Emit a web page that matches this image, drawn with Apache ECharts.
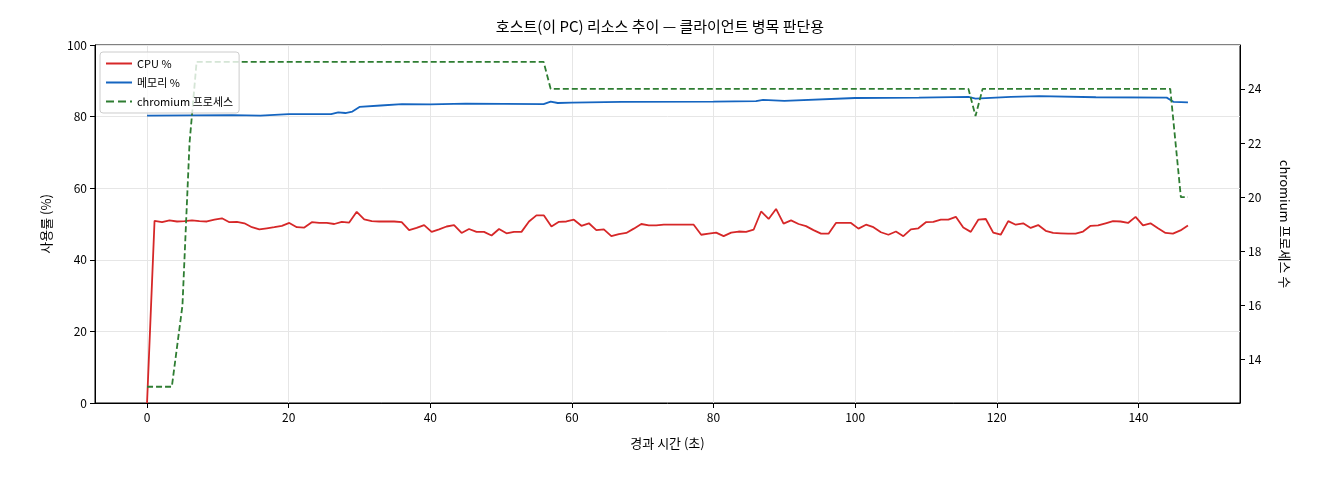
<!DOCTYPE html>
<html><head><meta charset="utf-8">
<script src="https://cdn.jsdelivr.net/npm/echarts@6/dist/echarts.min.js"></script>
<style>html,body{margin:0;padding:0;background:#fff}#c{width:1320px;height:480px}</style>
</head><body><div id="c"></div>
<script>
const cpuVals = [0,50.9,50.5,51,50.7,50.8,51,50.8,50.7,51.2,51.6,50.5,50.6,50.2,49.1,48.5,48.8,49.1,49.5,50.3,49.1,49,50.5,50.3,50.3,50,50.6,50.4,53.4,51.3,50.8,50.7,50.7,50.7,50.5,48.3,48.9,49.7,47.8,48.5,49.3,49.7,47.5,48.6,47.8,47.8,46.8,48.6,47.4,47.8,47.8,50.7,52.4,52.4,49.3,50.6,50.7,51.2,49.5,50.2,48.3,48.5,46.6,47.2,47.5,48.7,50,49.6,49.6,49.8,49.8,49.8,49.8,
49.8,47.0,47.3,47.6,46.6,47.6,47.9,47.8,48.4,53.5,51.4,54.2,50.1,51,50,49.4,48.3,47.3,47.3,50.3,50.3,50.3,48.7,49.8,49.1,47.7,47,47.9,46.6,48.5,48.8,50.5,50.6,51.2,51.2,52,49,47.8,51.2,51.4,47.6,47,50.8,49.8,50.2,48.9,49.7,48.1,47.5,47.4,47.3,47.3,47.9,49.5,49.6,50.2,50.8,50.7,50.3,52,49.6,50.2,48.8,47.5,47.3,48.2,49.6];
const endTime = 147;
const cpuTimes = cpuVals.map((_, i) => +(i * endTime / (cpuVals.length - 1)).toFixed(2));
const memTimes = [0,12,16,20,26,27,28,29,30,33,36,40,45,56,57,58,60,67,80,86,87,90,100,109,116,117,122,126,134,144,145,147];
const memVals  = [80.3,80.4,80.3,80.7,80.7,81.2,81.0,81.4,82.7,83.1,83.5,83.4,83.6,83.5,84.2,83.8,83.9,84.1,84.2,84.3,84.7,84.4,85.2,85.3,85.5,85.0,85.5,85.7,85.4,85.3,84.1,84.0];
const procTimes = [0,3.5,5,6,7,56,57,116,117,118,144.5,146,147];
const procVals  = [13,13,16,22,25,25,24,24,23,24,24,20,20];
const xTicks = [0,20,40,60,80,100,120,140];
const yTicks = [0,20,40,60,80,100];
const y2Ticks = [14,16,18,20,22,24];

const zip = (a,b) => a.map((v,i)=>[v,b[i]]);
const F = '"Noto Sans CJK KR","DejaVu Sans",sans-serif';
const chart = echarts.init(document.getElementById('c'));
const ax = {color:'#000'};
chart.setOption({
  animation:false,
  textStyle:{fontFamily:F},
  title:{text:'호스트(이 PC) 리소스 추이 — 클라이언트 병목 판단용',left:'center',top:14,textStyle:{fontFamily:F,fontSize:15,fontWeight:'normal',color:'#000'}},
  grid:{left:95,right:80,top:45,bottom:77,show:true,borderColor:'#000',borderWidth:1,backgroundColor:'transparent'},
  legend:{orient:'vertical',left:100,top:52,padding:[6,6],itemGap:8,itemWidth:26,itemHeight:2,
    backgroundColor:'rgba(255,255,255,0.8)',borderColor:'#ccc',borderWidth:1,borderRadius:3,
    textStyle:{fontFamily:F,fontSize:11,color:'#000'},
    data:[{name:'CPU %',icon:'rect'},{name:'메모리 %',icon:'rect'},
      {name:'chromium 프로세스',icon:'path://M0,0h8v2h-8z M12,0h8v2h-8z M24,0h2v2h-2z'}]},
  xAxis:{type:'value',min:-7.35,max:154.35,name:'경과 시간 (초)',nameLocation:'middle',nameGap:34,
    nameTextStyle:{fontSize:13,color:'#000'},
    axisLine:{show:true,onZero:false,lineStyle:ax},
    axisTick:{show:true,inside:false,length:5,lineStyle:ax,customValues:xTicks},
    axisLabel:{fontSize:12,color:'#000',customValues:xTicks},
    splitLine:{show:true,lineStyle:{color:'#e6e6e6'}}},
  yAxis:[{type:'value',min:0,max:100,name:'사용률 (%)',nameLocation:'middle',nameGap:42,
    nameTextStyle:{fontSize:13,color:'#000'},
    axisLine:{show:true,onZero:false,lineStyle:ax},
    axisTick:{show:true,inside:false,length:5,lineStyle:ax,customValues:yTicks},
    axisLabel:{fontSize:12,color:'#000',customValues:yTicks},
    splitLine:{show:true,lineStyle:{color:'#e6e6e6'}}},
   {type:'value',min:12.4,max:25.62,position:'right',name:'chromium 프로세스 수',nameLocation:'middle',nameGap:38,nameRotate:-90,
    nameTextStyle:{fontSize:13,color:'#000'},
    axisLine:{show:true,onZero:false,lineStyle:ax},
    axisTick:{show:true,inside:false,length:5,lineStyle:ax,customValues:y2Ticks},
    axisLabel:{fontSize:12,color:'#000',customValues:y2Ticks},
    splitLine:{show:false}}],
  series:[
    {name:'CPU %',type:'line',data:zip(cpuTimes,cpuVals),showSymbol:false,symbol:'none',lineStyle:{color:'#d62728',width:1.8},itemStyle:{color:'#d62728'}},
    {name:'메모리 %',type:'line',data:zip(memTimes,memVals),showSymbol:false,symbol:'none',lineStyle:{color:'#1565c0',width:1.8},itemStyle:{color:'#1565c0'}},
    {name:'chromium 프로세스',type:'line',yAxisIndex:1,data:zip(procTimes,procVals),showSymbol:false,symbol:'none',lineStyle:{color:'#2e7d32',width:1.8,type:[6,3]},itemStyle:{color:'#2e7d32'}}
  ]
});
</script></body></html>
